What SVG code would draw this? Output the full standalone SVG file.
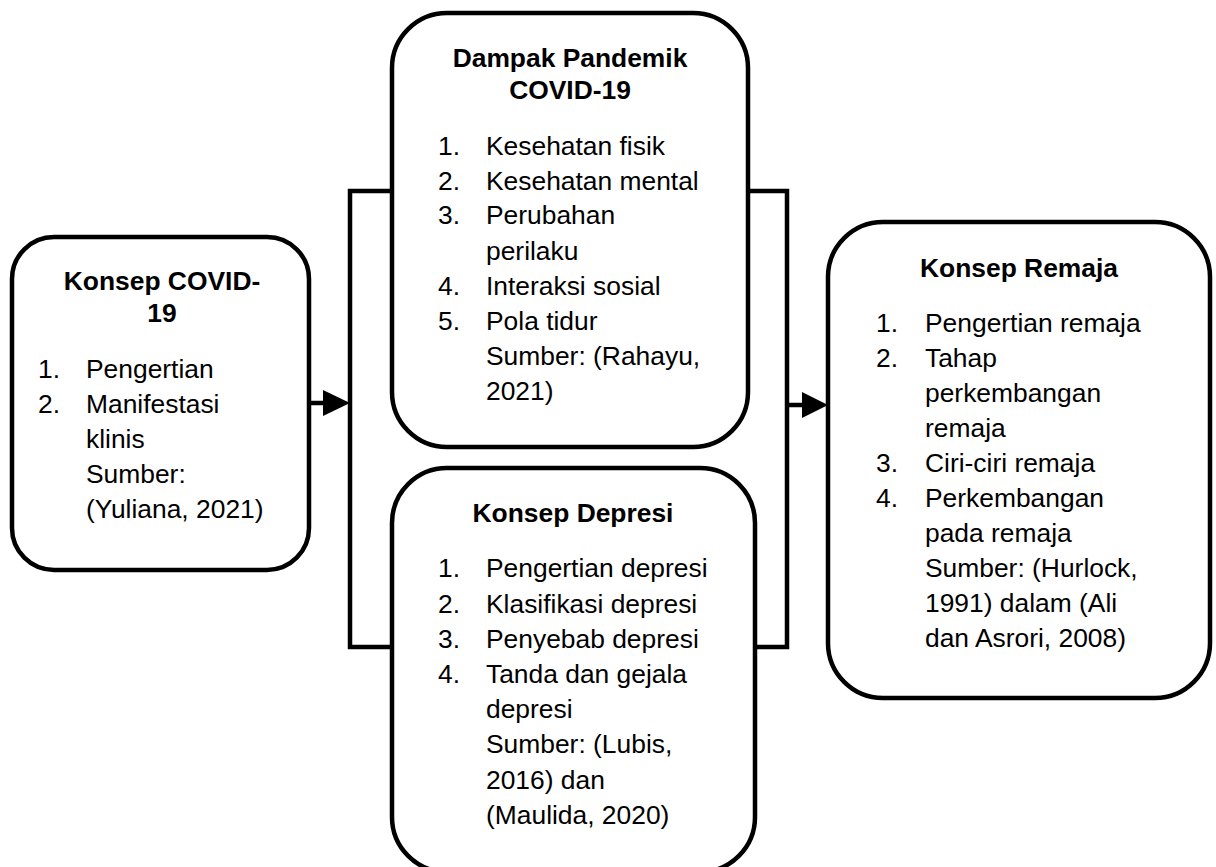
<svg xmlns="http://www.w3.org/2000/svg" width="1216" height="867" viewBox="0 0 1216 867">
<style>
.box{fill:#fff;stroke:#000;stroke-width:4.5}
.ln{fill:none;stroke:#000;stroke-width:4.5}
text{font-family:"Liberation Sans",Arial,sans-serif;font-size:26.4px;fill:#000}
.t{font-weight:bold;text-anchor:middle}
</style>
<rect width="1216" height="867" fill="#fff"/>
<g id="connectors">
<polyline class="ln" points="392,191 350,191 350,647 392,647"/>
<polyline class="ln" points="748,191 787,191 787,647 755,647"/>
<line class="ln" x1="309" y1="403" x2="326" y2="403"/>
<polygon points="323,390 350,403 323,416" fill="#000"/>
<line class="ln" x1="787" y1="405" x2="805" y2="405"/>
<polygon points="802,392 828,405 802,418" fill="#000"/>
</g>
<g id="konsep-covid">
<rect class="box" x="12" y="237" width="297" height="333" rx="42"/>
<text class="t" x="162" y="290">Konsep COVID-</text>
<text class="t" x="162" y="322">19</text>
<text x="38" y="378">1.</text><text x="86" y="378">Pengertian</text>
<text x="38" y="413">2.</text><text x="86" y="413">Manifestasi</text>
<text x="86" y="448">klinis</text>
<text x="86" y="483">Sumber:</text>
<text x="86" y="518">(Yuliana, 2021)</text>
</g>
<g id="dampak">
<rect class="box" x="392" y="13" width="356" height="434" rx="55"/>
<text class="t" x="570" y="67">Dampak Pandemik</text>
<text class="t" x="570" y="99">COVID-19</text>
<text x="438" y="155">1.</text><text x="486" y="155">Kesehatan fisik</text>
<text x="438" y="189.5">2.</text><text x="486" y="189.5">Kesehatan mental</text>
<text x="438" y="224">3.</text><text x="486" y="224">Perubahan</text>
<text x="486" y="259.5">perilaku</text>
<text x="438" y="295">4.</text><text x="486" y="295">Interaksi sosial</text>
<text x="438" y="330">5.</text><text x="486" y="330">Pola tidur</text>
<text x="486" y="365">Sumber: (Rahayu,</text>
<text x="486" y="400">2021)</text>
</g>
<g id="depresi">
<rect class="box" x="392" y="468" width="363" height="404" rx="55"/>
<text class="t" x="573" y="522">Konsep Depresi</text>
<text x="438" y="577">1.</text><text x="486" y="577">Pengertian depresi</text>
<text x="438" y="612.5">2.</text><text x="486" y="612.5">Klasifikasi depresi</text>
<text x="438" y="648">3.</text><text x="486" y="648">Penyebab depresi</text>
<text x="438" y="683">4.</text><text x="486" y="683">Tanda dan gejala</text>
<text x="486" y="718">depresi</text>
<text x="486" y="753">Sumber: (Lubis,</text>
<text x="486" y="789">2016) dan</text>
<text x="486" y="824">(Maulida, 2020)</text>
</g>
<g id="remaja">
<rect class="box" x="828" y="222" width="382" height="476" rx="55"/>
<text class="t" x="1019" y="277">Konsep Remaja</text>
<text x="876" y="332">1.</text><text x="925" y="332">Pengertian remaja</text>
<text x="876" y="367">2.</text><text x="925" y="367">Tahap</text>
<text x="925" y="402">perkembangan</text>
<text x="925" y="437">remaja</text>
<text x="876" y="472">3.</text><text x="925" y="472">Ciri-ciri remaja</text>
<text x="876" y="507">4.</text><text x="925" y="507">Perkembangan</text>
<text x="925" y="542">pada remaja</text>
<text x="925" y="577">Sumber: (Hurlock,</text>
<text x="925" y="612">1991) dalam (Ali</text>
<text x="925" y="647">dan Asrori, 2008)</text>
</g>
</svg>
